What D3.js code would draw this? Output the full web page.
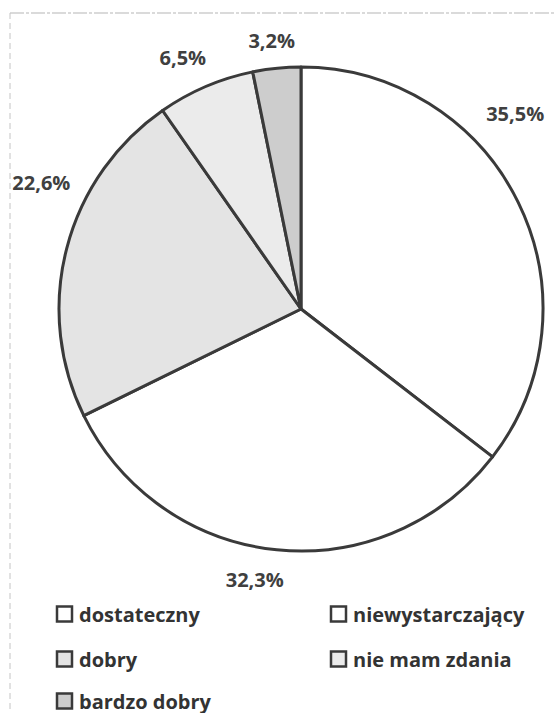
<!DOCTYPE html>
<html>
<head>
<meta charset="utf-8">
<script src="https://cdn.jsdelivr.net/npm/d3@7"></script>
<style>
  body { margin: 0; background: #fff; }
  svg { display: block; }
</style>
</head>
<body>
<svg id="chart" width="554" height="713"></svg>
<script>
// DATA
var categories = ["dostateczny", "niewystarczający", "dobry", "nie mam zdania", "bardzo dobry"];
var values = [35.5, 32.3, 22.6, 6.5, 3.2];
var labels = ["35,5%", "32,3%", "22,6%", "6,5%", "3,2%"];
var fills = ["#ffffff", "#ffffff", "#e4e4e4", "#ebebeb", "#cdcdcd"];

var svg = d3.select("#chart");
var cx = 301, cy = 309, r = 242;
var ink = "#3a3a3a";

// FRAME (scanned border)
svg.append("line").attr("x1", 10).attr("x2", 554).attr("y1", 13).attr("y2", 13)
  .attr("stroke", "#b5b5b5").attr("stroke-width", 1).attr("stroke-dasharray", "14,2,3,2");
svg.append("line").attr("x1", 10).attr("x2", 10).attr("y1", 13).attr("y2", 713)
  .attr("stroke", "#c4c4c4").attr("stroke-width", 1).attr("stroke-dasharray", "6,4");

// PIE
var pie = d3.pie().sort(null).value(function(d){ return d; });
var arcs = pie(values);
var arc = d3.arc().innerRadius(0).outerRadius(r);

var g = svg.append("g").attr("transform", "translate(" + cx + "," + cy + ")");
g.selectAll("path").data(arcs).enter().append("path")
  .attr("d", arc)
  .attr("fill", function(d, i){ return fills[i]; })
  .attr("stroke", ink)
  .attr("stroke-width", 3)
  .attr("stroke-linejoin", "round");

// LABELS (best-fit placement, offset from the outside centroid)
var labelArc = d3.arc().innerRadius(r + 20).outerRadius(r + 20);
var nudges = [[-21, -80], [-20, 10], [-6, -61], [-15, -11], [-3, -8]];
g.selectAll(".lbl").data(arcs).enter().append("text")
  .attr("class", "lbl")
  .attr("x", function(d, i){ return labelArc.centroid(d)[0] + nudges[i][0]; })
  .attr("y", function(d, i){ return labelArc.centroid(d)[1] + nudges[i][1]; })
  .attr("text-anchor", "middle")
  .attr("dominant-baseline", "central")
  .attr("font-family", "'Open Sans', sans-serif")
  .attr("font-weight", "bold")
  .attr("font-size", 20)
  .attr("fill", "#404040")
  .text(function(d, i){ return labels[i]; });

// LEGEND
var legendRows = [614, 659, 701];
var legendCols = [57, 331];
var legend = svg.append("g");
categories.forEach(function(c, i){
  var x = legendCols[i % 2], y = legendRows[Math.floor(i / 2)];
  legend.append("rect").attr("x", x).attr("y", y - 7.5).attr("width", 15).attr("height", 15)
    .attr("fill", fills[i]).attr("stroke", ink).attr("stroke-width", 2.5);
  legend.append("text").attr("x", x + 22).attr("y", y)
    .attr("dominant-baseline", "central")
    .attr("font-family", "'Open Sans', sans-serif")
    .attr("font-weight", "bold")
    .attr("font-size", 20)
    .attr("fill", "#333")
    .text(c);
});
</script>
</body>
</html>
